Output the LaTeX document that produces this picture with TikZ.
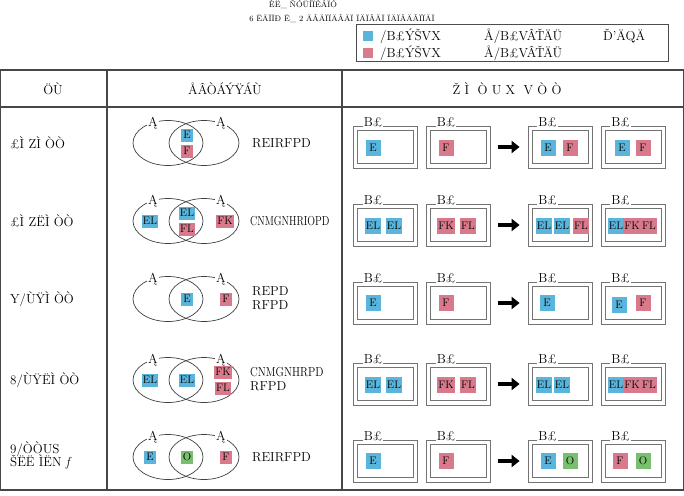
\documentclass[tikz,border=0pt]{standalone}
\usepackage{fontspec}
\usepackage{xcolor}
\usepackage{tikz}
\usetikzlibrary{shapes.geometric,arrows.meta,positioning,calc}
\definecolor{sqblue}{HTML}{5AB4DC}
\definecolor{sqred}{HTML}{D87A8C}
\definecolor{sqgreen}{HTML}{78C070}
\tikzset{
  tline/.style  = {draw=black!72, line width=1.3pt},
  lgline/.style = {draw=black!70, line width=1pt},
  txt/.style    = {font=\fontsize{13}{15}\selectfont, inner sep=1pt},
  hdr/.style    = {font=\fontsize{13}{15}\selectfont, inner sep=1pt},
  venn/.style   = {ellipse, draw=black!75, line width=0.7pt, minimum width=70pt,
                   minimum height=45pt, inner sep=0pt},
  setlbl/.style = {fill=white, inner sep=1pt, font=\fontsize{13}{14}\selectfont},
  sq/.style     = {rectangle, inner sep=1pt, minimum width=15pt, minimum height=16pt,
                   font=\fontsize{11}{12}\selectfont},
  bsq/.style    = {sq, fill=sqblue},
  rsq/.style    = {sq, fill=sqred},
  gsq/.style    = {sq, fill=sqgreen},
  vsq/.style    = {minimum width=12pt, minimum height=13pt},
  frm/.style    = {rectangle, draw=black!55, line width=0.8pt,
                   minimum width=64pt, minimum height=42pt, inner sep=0pt},
  frmin/.style  = {rectangle, draw=black!55, line width=0.8pt,
                   minimum width=56pt, minimum height=33pt, inner sep=0pt},
  frmlbl/.style = {fill=white, inner sep=1pt, anchor=base, font=\fontsize{13}{14}\selectfont},
  bigarrow/.style = {-{Triangle[length=8pt,width=12pt]}, line width=4.5pt, black,
                   shorten <=7pt, shorten >=8pt},
}

\begin{document}
\begin{tikzpicture}[x=1pt, y=-1pt]
  \useasboundingbox (0,0) rectangle (684,495);
  % title
  \node[font=\fontsize{8}{9}\selectfont, inner sep=0pt] (ttl1) at (303,4) {ÈË\_ ÑÓÜÍÏÉÁÏÓ};
  \node[font=\fontsize{8}{9}\selectfont, inner sep=0pt] (ttl2) at (342,19) {6 ËÄÏÏÐ Ë\_ 2 ÄÂÄÏÏÄÂÄÏ ÏÄÏÂÄÏ ÏÄÏÂÄÂÏÏÄÏ};
  % legend
  \draw[lgline] (356,25) rectangle (668,61);
  \node[bsq, minimum width=10pt, minimum height=10pt, inner sep=0pt] (lgb) at (368,36) {};
  \node[rsq, minimum width=10pt, minimum height=10pt, inner sep=0pt] (lgr) at (368,53) {};
  \node[txt, anchor=west] (lgb1) at (379,36) {/B£ÝŠVX};
  \node[txt, anchor=west] (lgb2) at (483,36) {Å/B£VÂŤÄÜ};
  \node[txt, anchor=west] (lgb3) at (602,36) {Ď'ÄQÄ};
  \node[txt, anchor=west] (lgr1) at (379,53) {/B£ÝŠVX};
  \node[txt, anchor=west] (lgr2) at (483,53) {Å/B£VÂŤÄÜ};
  % table
  \draw[tline] (0.7,70) rectangle (683.3,490);
  \draw[tline] (0,107) -- (684,107);
  \draw[tline] (107,70) -- (107,490);
  \draw[tline] (342,70) -- (342,490);
  \node[hdr] (h1) at (53,89) {ÖÙ};
  \node[hdr] (h2) at (225,89) {ÅÂÒÁÝŸÁÙ};
  \node[hdr] (h3) at (507,89) {Ž Ì \ Ò U X \ V Ò Ò};
  % operation names
  \node[txt, anchor=west] (op1) at (9,143) {£Ì ZÌ ÒÒ};
  \node[txt, anchor=west] (op2) at (9,221) {£Ì ZËÌ ÒÒ};
  \node[txt, anchor=west] (op3) at (9,299) {Y/ÙŸÌ ÒÒ};
  \node[txt, anchor=west] (op4) at (9,380) {8/ÙŸËÌ ÒÒ};
  \node[txt, anchor=west, align=left] (op5) at (9,455) {9/ÒÒUS\\[-3pt]ŠËË ÌËN \textit{f}};
  % venn diagrams and frames
  \foreach \r/\yc in {1/143, 2/221, 3/299, 4/380, 5/457} {
    \node[venn] (vl\r) at (168,\yc) {};
    \node[venn] (vr\r) at (204,\yc) {};
    \node[setlbl] (al\r) at (153,\yc-20) {Ą};
    \node[setlbl] (ar\r) at (221,\yc-20) {Ą};
    \foreach \c/\x in {1/385.5, 2/458.5, 3/560, 4/633} {
      \node[frm] (f\r\c) at (\x,\yc+4) {};
      \node[frmin] (fi\r\c) at (\x,\yc+4) {};
      \node[frmlbl] (fl\r\c) at ($(f\r\c.north west)+(20,1)$) {B£};
    }
    \draw[bigarrow] (f\r2.east) -- (f\r3.west);
  }
  % row 1
  \node[bsq, vsq] (v1a) at (187,135) {E};
  \node[rsq, vsq] (v1b) at (187,151) {F};
  \node[txt, anchor=west] (t1) at (251,143) {REIRFPD};
  \foreach \x/\s/\t [count=\i] in {373/bsq/E, 446/rsq/F, 548/bsq/E, 570/rsq/F, 622/bsq/E, 643/rsq/F}
    \node[\s] (s1\i) at (\x,148) {\t};
  % row 2
  \node[bsq, vsq] (v2a) at (150,221) {EL};
  \node[bsq, vsq] (v2b) at (187,213) {EL};
  \node[rsq, vsq] (v2c) at (187,229) {FL};
  \node[rsq, vsq] (v2d) at (225,221) {FK};
  \node[txt, anchor=west] (t2) at (249,221) {\scalebox{0.78}[1]{CNMGNHRIOPD}};
  \foreach \x/\s/\t [count=\i] in {373/bsq/EL, 394/bsq/EL, 446/rsq/FK, 468/rsq/FL,
      544/bsq/EL, 562/bsq/EL, 581/rsq/FL, 616/bsq/EL, 632/rsq/FK, 649/rsq/FL}
    \node[\s] (s2\i) at (\x,226) {\t};
  % row 3
  \node[bsq, vsq] (v3a) at (187,299) {E};
  \node[rsq, vsq] (v3b) at (226,299) {F};
  \node[txt, anchor=west, align=left] (t3) at (251,298) {REPD\\[-1pt]RFPD};
  \foreach \x/\s/\t [count=\i] in {373/bsq/E, 446/rsq/F, 547/bsq/E}
    \node[\s] (s3\i) at (\x,303) {\t};
  \node[bsq] (s34) at (619,305) {E};
  \node[rsq] (s35) at (643,303) {F};
  % row 4
  \node[bsq, vsq] (v4a) at (150,380) {EL};
  \node[bsq, vsq] (v4b) at (187,380) {EL};
  \node[rsq, vsq] (v4c) at (223,372) {FK};
  \node[rsq, vsq] (v4d) at (223,388) {FL};
  \node[txt, anchor=west, align=left] (t4) at (249,379) {\scalebox{0.84}[1]{CNMGNHRPD}\\[-1pt]RFPD};
  \foreach \x/\s/\t [count=\i] in {373/bsq/EL, 394/bsq/EL, 446/rsq/FK, 468/rsq/FL,
      544/bsq/EL, 562/bsq/EL, 616/bsq/EL, 632/rsq/FK, 649/rsq/FL}
    \node[\s] (s4\i) at (\x,385) {\t};
  % row 5
  \node[bsq, vsq] (v5a) at (150,457) {E};
  \node[gsq, vsq] (v5b) at (187,457) {O};
  \node[rsq, vsq] (v5c) at (226,457) {F};
  \node[txt, anchor=west] (t5) at (251,457) {REIRFPD};
  \foreach \x/\s/\t [count=\i] in {373/bsq/E, 446/rsq/F, 548/bsq/E, 570/gsq/O, 620/rsq/F, 643/gsq/O}
    \node[\s] (s5\i) at (\x,461) {\t};
\end{tikzpicture}
\end{document}
